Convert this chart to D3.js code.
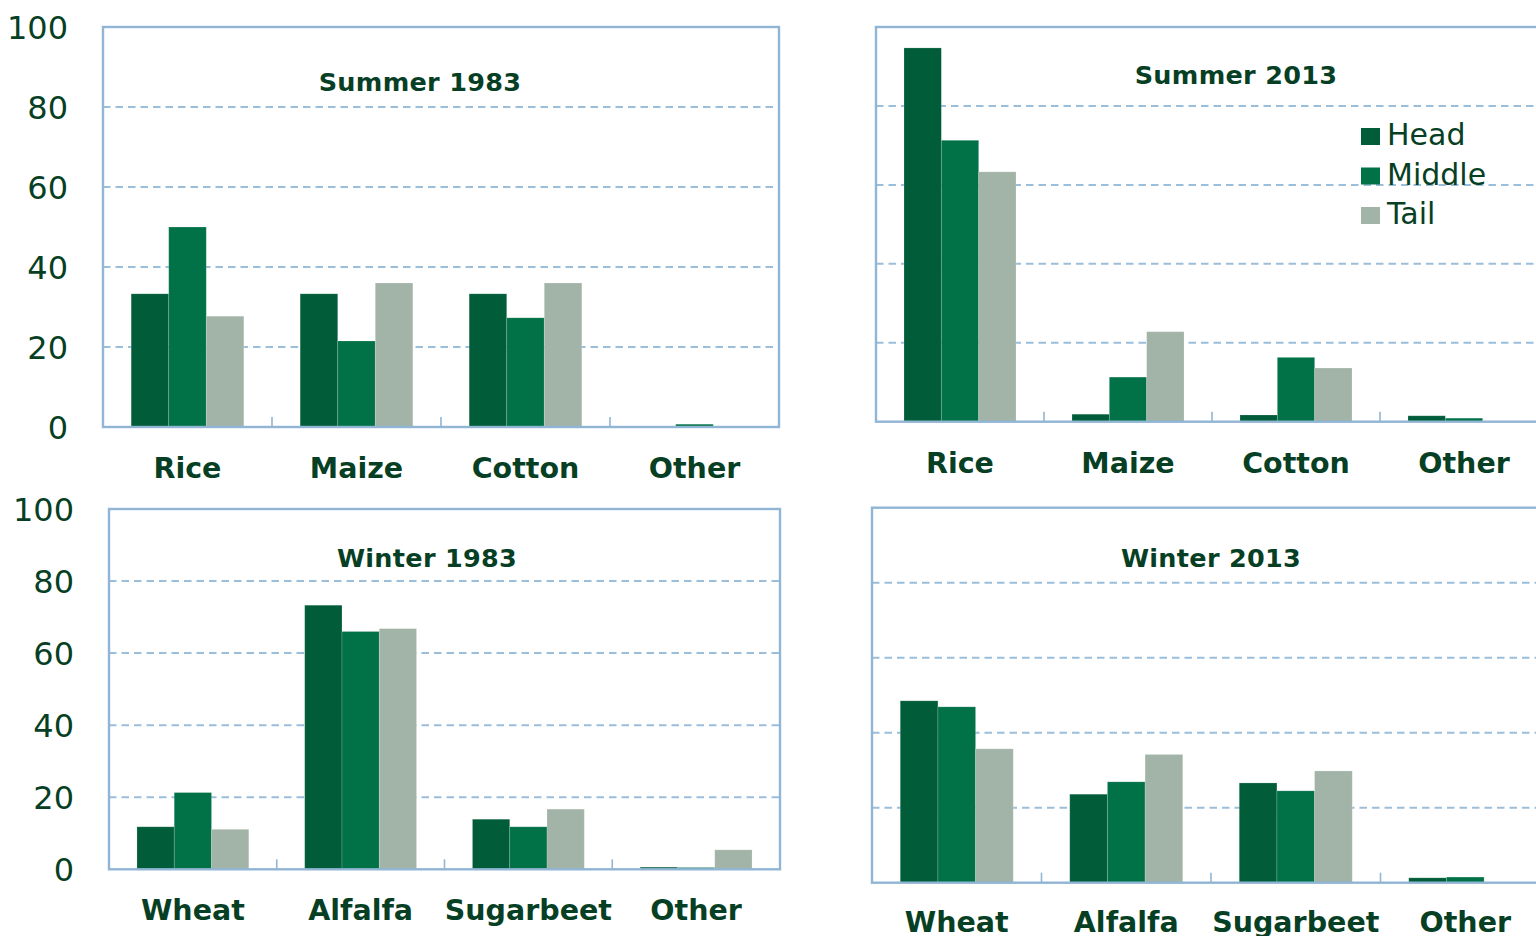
<!DOCTYPE html>
<html>
<head>
<meta charset="utf-8">
<script src="https://cdn.jsdelivr.net/npm/d3@7"></script>
<style>
  html, body { margin: 0; padding: 0; background: #ffffff; }
  svg { display: block; }
</style>
</head>
<body>
<svg id="chart" width="1536" height="936"></svg>
<script>
// ---------------- data ----------------
const seriesNames = ["Head", "Middle", "Tail"];
const summerCrops = ["Rice", "Maize", "Cotton", "Other"];
const winterCrops = ["Wheat", "Alfalfa", "Sugarbeet", "Other"];
const yTickValues = [0, 20, 40, 60, 80, 100];

const summer1983Head   = [33.3, 33.3, 33.3, 0];
const summer1983Middle = [50.0, 21.5, 27.3, 0.7];
const summer1983Tail   = [27.7, 36.0, 36.0, 0];

const summer2013Head   = [94.7, 1.9, 1.7, 1.5];
const summer2013Middle = [71.3, 11.3, 16.3, 0.9];
const summer2013Tail   = [63.3, 22.8, 13.6, 0];

const winter1983Head   = [11.8, 73.3, 13.9, 0.6];
const winter1983Middle = [21.3, 66.0, 11.8, 0.5];
const winter1983Tail   = [11.1, 66.8, 16.7, 5.4];

const winter2013Head   = [48.5, 23.6, 26.6, 1.3];
const winter2013Middle = [46.9, 26.9, 24.5, 1.5];
const winter2013Tail   = [35.7, 34.2, 29.8, 0];

// ---------------- styling ----------------
const colors = { Head: "#005c39", Middle: "#017148", Tail: "#a2b4a7" };
const textColor = "#073f25";
const frameColor = "#90b5d5";
const gridColor = "#9bbedb";
const FONT = "'DejaVu Sans', Verdana, sans-serif";

const panels = [
  { title: "Summer 1983", crops: summerCrops, series: [summer1983Head, summer1983Middle, summer1983Tail],
    left: 103, right: 779, y0: 427, y100: 27, yLabels: true, yLabelRight: 68,
    titleX: 420, titleY: 91, labelY: 478 },
  { title: "Summer 2013", crops: summerCrops, series: [summer2013Head, summer2013Middle, summer2013Tail],
    left: 876, right: 876 + 4 * 168, y0: 421.7, y100: 27, yLabels: false,
    titleX: 1236, titleY: 84, labelY: 473, legend: true },
  { title: "Winter 1983", crops: winterCrops, series: [winter1983Head, winter1983Middle, winter1983Tail],
    left: 109, right: 780, y0: 869.3, y100: 509, yLabels: true, yLabelRight: 74,
    titleX: 427, titleY: 567, labelY: 920 },
  { title: "Winter 2013", crops: winterCrops, series: [winter2013Head, winter2013Middle, winter2013Tail],
    left: 872, right: 872 + 4 * 169.5, y0: 882.7, y100: 507.7, yLabels: false,
    titleX: 1211, titleY: 567, labelY: 932 }
];

const svg = d3.select("#chart");

panels.forEach(p => {
  const g = svg.append("g");
  const y = d3.scaleLinear().domain([0, 100]).range([p.y0, p.y100]);
  const x = d3.scaleBand().domain(p.crops).range([p.left, p.right])
    .paddingInner(1 / 3).paddingOuter(1 / 6);
  const xs = d3.scaleBand().domain(seriesNames).range([0, x.bandwidth()]).padding(0);
  const step = x.step();

  // gridlines (dashed) for 20..80
  g.append("g").selectAll("line")
    .data(yTickValues.filter(v => v > 0 && v < 100))
    .join("line")
    .attr("x1", p.left).attr("x2", p.right)
    .attr("y1", d => y(d)).attr("y2", d => y(d))
    .attr("stroke", gridColor).attr("stroke-width", 2)
    .attr("stroke-dasharray", "7.5,5");

  // bars
  const rows = p.crops.map((c, i) => ({ crop: c, vals: seriesNames.map((s, k) => ({ s, v: p.series[k][i] })) }));
  g.append("g").selectAll("g")
    .data(rows)
    .join("g")
    .attr("transform", d => `translate(${x(d.crop)},0)`)
    .selectAll("rect")
    .data(d => d.vals.filter(e => e.v > 0))
    .join("rect")
    .attr("x", d => xs(d.s))
    .attr("width", xs.bandwidth())
    .attr("y", d => y(d.v))
    .attr("height", d => y(0) - y(d.v))
    .attr("fill", d => colors[d.s])
    .attr("stroke", "rgba(255,255,255,0.22)")
    .attr("stroke-width", 0.8);

  // frame
  g.append("rect")
    .attr("x", p.left).attr("y", y(100))
    .attr("width", p.right - p.left).attr("height", y(0) - y(100))
    .attr("fill", "none").attr("stroke", frameColor).attr("stroke-width", 2.4);

  // category separator ticks on the axis
  g.append("g").selectAll("line")
    .data(p.crops.slice(1))
    .join("line")
    .attr("x1", d => x(d) - step * (1 / 6)).attr("x2", d => x(d) - step * (1 / 6))
    .attr("y1", y(0)).attr("y2", y(0) - 10)
    .attr("stroke", frameColor).attr("stroke-width", 1.6);

  // y tick labels
  if (p.yLabels) {
    g.append("g").selectAll("text")
      .data(yTickValues)
      .join("text")
      .attr("x", p.yLabelRight)
      .attr("y", d => y(d) + 12)
      .attr("text-anchor", "end")
      .attr("font-family", FONT)
      .attr("font-size", 32)
      .attr("fill", textColor)
      .text(d => d);
  }

  // category labels
  g.append("g").selectAll("text")
    .data(p.crops)
    .join("text")
    .attr("x", d => x(d) + x.bandwidth() / 2)
    .attr("y", p.labelY)
    .attr("text-anchor", "middle")
    .attr("font-family", FONT)
    .attr("font-weight", "bold")
    .attr("font-size", 28.5)
    .attr("fill", textColor)
    .text(d => d);

  // title
  g.append("text")
    .attr("x", p.titleX).attr("y", p.titleY)
    .attr("text-anchor", "middle")
    .attr("font-family", FONT)
    .attr("font-weight", "bold")
    .attr("font-size", 25.5)
    .attr("letter-spacing", 0.3)
    .attr("fill", textColor)
    .text(p.title);

  // legend
  if (p.legend) {
    const lg = g.append("g");
    const ly = d3.scalePoint().domain(seriesNames).range([128, 207]);
    lg.selectAll("rect")
      .data(seriesNames)
      .join("rect")
      .attr("x", 1361).attr("y", d => ly(d))
      .attr("width", 19).attr("height", 17)
      .attr("fill", d => colors[d]);
    lg.selectAll("text")
      .data(seriesNames)
      .join("text")
      .attr("x", 1387).attr("y", d => ly(d) + 17)
      .attr("font-family", FONT)
      .attr("font-size", 30)
      .attr("fill", textColor)
      .text(d => d);
  }
});
</script>
</body>
</html>
